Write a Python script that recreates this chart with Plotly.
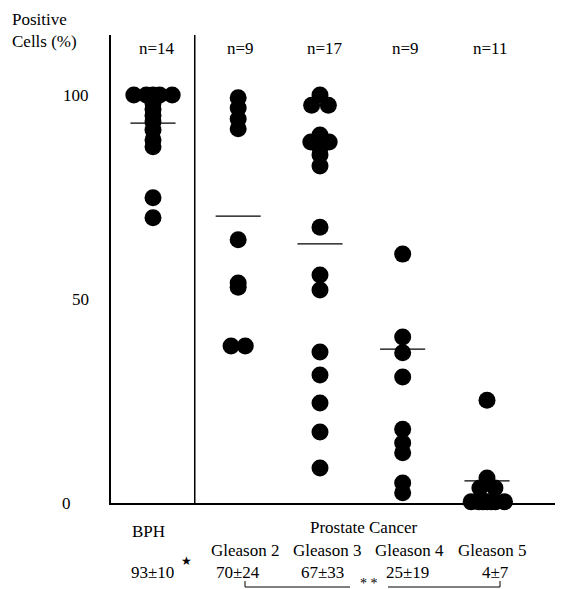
import plotly.graph_objects as go

# ---------------- data ----------------
groups = ["BPH", "Gleason 2", "Gleason 3", "Gleason 4", "Gleason 5"]
n_labels = ["n=14", "n=9", "n=17", "n=9", "n=11"]
stat_labels = ["93\u00b110", "70\u00b124", "67\u00b133", "25\u00b119", "4\u00b17"]

bph = [100, 100, 100, 100, 100, 98, 96.5, 95, 93.4, 91.4, 89, 87.3, 74.8, 69.9]
gleason2 = [99.3, 96.8, 94.1, 91.7, 64.5, 53.9, 52.9, 38.5, 38.5]
gleason3 = [100, 97.5, 97.5, 90.2, 88.5, 88.5, 87, 85.3, 82.6, 67.6, 55.9, 52.2,
            37.0, 31.4, 24.5, 17.4, 8.6]
gleason4 = [61.0, 40.7, 36.8, 30.9, 18.1, 14.7, 12.3, 4.9, 2.5]
gleason5 = [25.2, 6.1, 3.7, 3.7, 0.3, 0.3, 0.3, 0.3, 0.3, 0.3, 0.3]

mean_lines = [93.1, 70.3, 63.5, 37.7, 5.4]   # horizontal bars as drawn
y_ticks = [0, 50, 100]

# ---------------- layout helpers ----------------
# horizontal jitter of overlapping dots (in x units)
jit_bph = [-0.23, -0.08, 0, 0.08, 0.23, 0, 0, 0, 0, 0, 0, 0, 0, 0]
jit_g2 = [0, 0, 0, 0, 0, 0, 0, -0.085, 0.085]
jit_g3 = [0, -0.1, 0.1, 0, -0.11, 0.11, 0, 0, 0, 0, 0, 0, 0, 0, 0, 0, 0]
jit_g4 = [0] * 9
jit_g5 = [0, 0, -0.085, 0.095, -0.19, -0.1, 0, 0.1, 0.21, -0.05, 0.05]

x_pos = [0, 1.02, 2.0, 2.99, 4.0]
all_vals = [bph, gleason2, gleason3, gleason4, gleason5]
all_jit = [jit_bph, jit_g2, jit_g3, jit_g4, jit_g5]

# page body has an 8px default margin -> compensate
OFF = 8
W, H = 566 - OFF, 589 - OFF
L, R, T, B = 111 - OFF, 555 - OFF, 35 - OFF, 503 - OFF


def px(x):
    return (x - OFF - L) / (R - L)


def py(y):
    return (B - (y - OFF)) / (B - T)


FONT = "Liberation Serif, Times New Roman, serif"

fig = go.Figure()

xs, ys = [], []
for xp, vals, jit in zip(x_pos, all_vals, all_jit):
    for v, j in zip(vals, jit):
        xs.append(xp + j)
        ys.append(v)

fig.add_trace(go.Scatter(
    x=xs, y=ys, mode="markers",
    marker=dict(size=17, color="black", line=dict(width=0)),
    cliponaxis=False, hoverinfo="skip",
))

mx, my = [], []
for xp, m in zip(x_pos, mean_lines):
    mx += [xp - 0.27, xp + 0.27, None]
    my += [m, m, None]
fig.add_trace(go.Scatter(x=mx, y=my, mode="lines",
                         line=dict(color="black", width=1.3),
                         cliponaxis=False, hoverinfo="skip"))

ann = []
# y tick labels
tick_px = {100: (91, "right"), 50: (91, "right"), 0: (66, "center")}
for t in y_ticks:
    xx, anc = tick_px[t]
    ann.append(dict(x=px(xx), xref="paper", y=t, yref="y", text=str(t),
                    xanchor=anc, yanchor="middle", showarrow=False))
# y title
ann.append(dict(x=px(10), xref="paper", y=py(30), yref="paper",
                text="Positive<br>Cells (%)", align="left",
                xanchor="left", yanchor="middle", showarrow=False))
# n labels
n_px = [157, 240, 325, 405, 490]
for xx, t in zip(n_px, n_labels):
    ann.append(dict(x=px(xx), xref="paper", y=py(48), yref="paper", text=t,
                    xanchor="center", yanchor="middle", showarrow=False))
# bottom labels
ann.append(dict(x=px(148), xref="paper", y=py(531), yref="paper", text=groups[0],
                xanchor="center", yanchor="middle", showarrow=False))
ann.append(dict(x=px(363), xref="paper", y=py(527), yref="paper", text="Prostate Cancer",
                xanchor="center", yanchor="middle", showarrow=False))
g_px = [245, 327, 409, 492]
for xx, t in zip(g_px, groups[1:]):
    ann.append(dict(x=px(xx), xref="paper", y=py(550), yref="paper", text=t,
                    xanchor="center", yanchor="middle", showarrow=False))
s_px = [152, 238, 322, 407, 495]
for xx, t in zip(s_px, stat_labels):
    ann.append(dict(x=px(xx), xref="paper", y=py(572), yref="paper", text=t,
                    xanchor="center", yanchor="middle", showarrow=False))
ann.append(dict(x=px(186), xref="paper", y=py(561), yref="paper", text="\u2605",
                font=dict(size=12), xanchor="center", yanchor="middle", showarrow=False))
ann.append(dict(x=px(369), xref="paper", y=py(583), yref="paper", text="* *",
                font=dict(size=14), xanchor="center", yanchor="middle", showarrow=False))

shapes = [
    dict(type="line", xref="x", yref="paper", x0=0.5, x1=0.5, y0=0, y1=1,
         line=dict(color="black", width=1.5)),
    dict(type="line", xref="paper", yref="paper", x0=px(245), x1=px(350),
         y0=py(587), y1=py(587), line=dict(color="black", width=1)),
    dict(type="line", xref="paper", yref="paper", x0=px(388), x1=px(500),
         y0=py(587), y1=py(587), line=dict(color="black", width=1)),
    dict(type="line", xref="paper", yref="paper", x0=px(245), x1=px(245),
         y0=py(581), y1=py(587), line=dict(color="black", width=1)),
    dict(type="line", xref="paper", yref="paper", x0=px(500), x1=px(500),
         y0=py(581), y1=py(587), line=dict(color="black", width=1)),
]

fig.update_layout(
    width=W, height=H,
    margin=dict(l=L, r=W - R, t=T, b=H - B, pad=0),
    paper_bgcolor="white", plot_bgcolor="white",
    showlegend=False,
    font=dict(family=FONT, size=17, color="black"),
    xaxis=dict(range=[(111 - 153) / 83.5, (555 - 153) / 83.5], showgrid=False,
               zeroline=False, showticklabels=False, ticks="",
               showline=True, linecolor="black", linewidth=1.5, fixedrange=True),
    yaxis=dict(range=[0, (503 - 35) / 4.08], showgrid=False, zeroline=False,
               showticklabels=False, ticks="",
               showline=True, linecolor="black", linewidth=1.5, fixedrange=True),
    annotations=ann,
    shapes=shapes,
)

fig.write_html("out.html")
